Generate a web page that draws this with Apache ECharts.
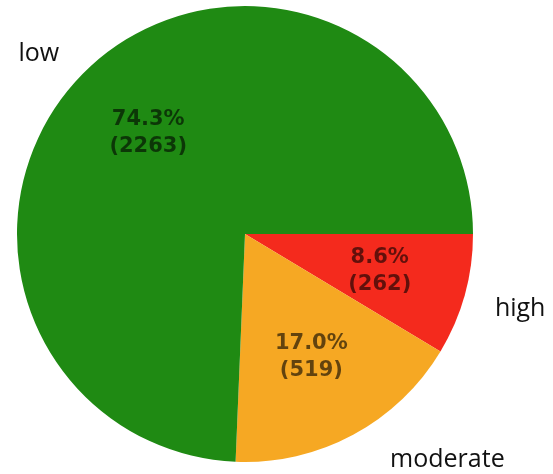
<!DOCTYPE html>
<html>
<head>
<meta charset="utf-8">
<script src="https://cdn.jsdelivr.net/npm/echarts@6/dist/echarts.min.js"></script>
<style>
  html, body { margin: 0; padding: 0; background: #ffffff; }
  #chart { width: 553px; height: 474px; }
</style>
</head>
<body>
<div id="chart"></div>
<script>
// Risk level counts, drawn clockwise from 3 o'clock
const categories = ['high', 'moderate', 'low'];
const counts = [262, 519, 2263];
const sliceColors = ['#f42a1d', '#f6a823', '#1f8a13'];

const total = counts.reduce((a, b) => a + b, 0);

// Small nudges applied to the outer name labels after the library lays them out
const nameLabelNudge = {
  high: [3, 8],
  moderate: [21, 5],
  low: [-7, 1]
};

const pieCenter = [245, 234];
const pieRadius = 228;

const sliceData = categories.map((name, i) => ({
  name: name,
  value: counts[i],
  itemStyle: { color: sliceColors[i] }
}));

const chart = echarts.init(document.getElementById('chart'), null, { renderer: 'canvas' });

chart.setOption({
  backgroundColor: '#ffffff',
  animation: false,
  series: [
    {
      // slices with category names outside
      type: 'pie',
      center: pieCenter,
      radius: pieRadius,
      startAngle: 0,
      clockwise: true,
      avoidLabelOverlap: false,
      silent: true,
      data: sliceData,
      itemStyle: { borderWidth: 0 },
      label: {
        show: true,
        position: 'outside',
        formatter: '{b}',
        fontFamily: 'Open Sans',
        fontSize: 25,
        color: '#111111'
      },
      labelLine: { show: false, length: 23, length2: 0 },
      labelLayout: function (params) {
        const nudge = nameLabelNudge[categories[params.dataIndex]] || [0, 0];
        return { dx: nudge[0], dy: nudge[1] };
      },
      emphasis: { disabled: true }
    },
    {
      // percentage + count labels at 0.6 of the radius
      type: 'pie',
      center: pieCenter,
      radius: [pieRadius * 0.2, pieRadius],
      startAngle: 0,
      clockwise: true,
      avoidLabelOverlap: false,
      silent: true,
      z: 5,
      data: categories.map((name, i) => ({ name: name, value: counts[i] })),
      itemStyle: { color: 'rgba(0,0,0,0)', borderWidth: 0 },
      label: {
        show: true,
        position: 'inside',
        formatter: function (p) {
          return (p.value / total * 100).toFixed(1) + '%\n(' + p.value + ')';
        },
        fontFamily: 'DejaVu Sans',
        fontSize: 21,
        lineHeight: 27,
        fontWeight: 'bold',
        color: 'rgba(0,0,0,0.6)'
      },
      labelLine: { show: false },
      emphasis: { disabled: true }
    }
  ]
});
</script>
</body>
</html>
